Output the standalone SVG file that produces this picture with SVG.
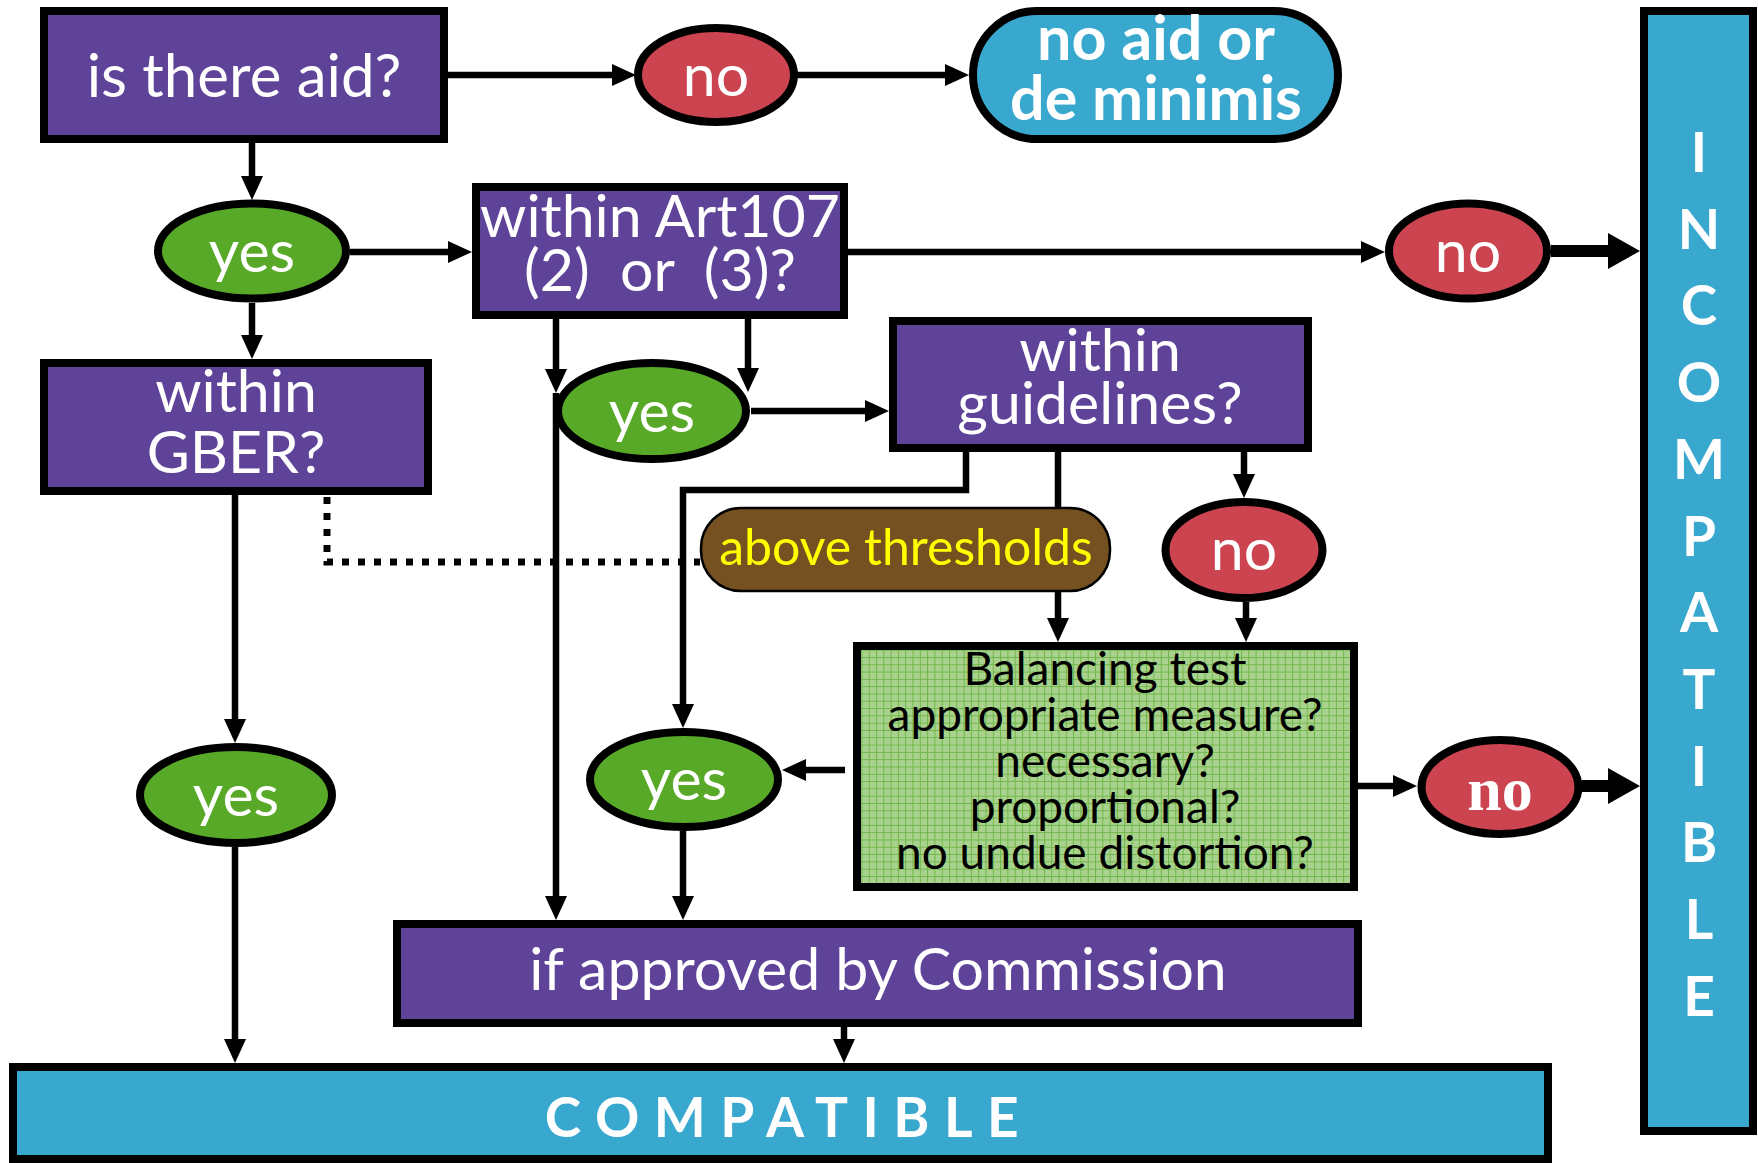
<svg xmlns="http://www.w3.org/2000/svg" width="1758" height="1163" viewBox="0 0 1758 1163">
<style>
.box{fill:#5E4399;stroke:#000;stroke-width:8}
.yes{fill:#58A928;stroke:#000;stroke-width:8}
.no{fill:#CB4450;stroke:#000;stroke-width:8}
.blue{fill:#38A8CF;stroke:#000;stroke-width:8}
.t{font-family:Lato,'Open Sans',sans-serif;fill:#fff;text-anchor:middle;font-size:59px}
.b{font-weight:bold}
.c{fill:none;stroke:#000;stroke-width:6.5}
.ck{fill:none;stroke:#000;stroke-width:12}
.a{marker-end:url(#ah)}
.ak{marker-end:url(#ahk)}
.dot{fill:none;stroke:#000;stroke-width:7;stroke-dasharray:7 9}
</style>
<defs>
<marker id="ah" markerUnits="userSpaceOnUse" markerWidth="24" markerHeight="22" viewBox="0 0 24 22" refX="0" refY="11" orient="auto"><path d="M0,0 L24,11 L0,22 Z" fill="#000"/></marker>
<marker id="ahk" markerUnits="userSpaceOnUse" markerWidth="32" markerHeight="36" viewBox="0 0 32 36" refX="0" refY="18" orient="auto"><path d="M0,0 L32,18 L0,36 Z" fill="#000"/></marker>
<pattern id="grid" width="7.3" height="7.3" patternUnits="userSpaceOnUse">
<rect width="7.3" height="7.3" fill="#AAD28F"/>
<path d="M0,0.5 H7.3 M0.5,0 V7.3" stroke="#6FB646" stroke-width="1"/>
</pattern>
</defs>

<g id="connectors">
<path class="c a" d="M448,75 H612"/>
<path class="c a" d="M794,75 H945"/>
<path class="c a" d="M252,143 V176"/>
<path class="c a" d="M350,252 H448"/>
<path class="c a" d="M848,252 H1361"/>
<path class="ck ak" d="M1551,251 H1608"/>
<path class="c a" d="M252,303 V335"/>
<path class="c a" d="M556,319 V369"/>
<path class="c a" d="M556,393 V896"/>
<path class="c a" d="M748,319 V368"/>
<path class="c a" d="M751,411 H865"/>
<path class="c a" d="M966,452 V490 H683 V704"/>
<path class="c a" d="M1058,452 V618"/>
<path class="c a" d="M1244,452 V474"/>
<path class="c a" d="M1246,602 V618"/>
<path class="c a" d="M845,770 H806"/>
<path class="c a" d="M1358,786 H1393"/>
<path class="ck ak" d="M1582,786 H1608"/>
<path class="c a" d="M683,831 V896"/>
<path class="c a" d="M235,495 V719"/>
<path class="c a" d="M235,847 V1039"/>
<path class="c a" d="M844,1027 V1039"/>
<path class="dot" d="M327,497 V562 H700"/>
</g>

<g id="n_aid"><rect class="box" x="44" y="11" width="400" height="128"/><text class="t" x="244" y="97" style="font-size:60px">is there aid?</text></g>
<g id="n_no1"><ellipse class="no" cx="716" cy="75" rx="78" ry="47"/><text class="t" x="716" y="96">no</text></g>
<g id="n_noaid"><rect class="blue" x="973" y="11" width="365" height="128" rx="64" ry="64"/><text class="t b" x="1156" y="60" style="font-size:61px">no aid or</text><text class="t b" x="1156" y="120" style="font-size:61px">de minimis</text></g>
<g id="n_incompat"><rect class="blue" x="1644" y="11" width="109" height="1120"/>
<g class="t b" style="font-size:55px"><text x="1699" y="172">I</text><text x="1699" y="249">N</text><text x="1699" y="325">C</text><text x="1699" y="402">O</text><text x="1699" y="479">M</text><text x="1699" y="556">P</text><text x="1699" y="632">A</text><text x="1699" y="709">T</text><text x="1699" y="786">I</text><text x="1699" y="862">B</text><text x="1699" y="939">L</text><text x="1699" y="1016">E</text></g></g>
<g id="n_yes1"><ellipse class="yes" cx="252" cy="251" rx="94" ry="47.5"/><text class="t" x="252" y="272">yes</text></g>
<g id="n_art"><rect class="box" x="476" y="187" width="368" height="128"/><text class="t" x="660" y="237">within Art107</text><text class="t" x="660" y="291" style="white-space:pre">(2)  or  (3)?</text></g>
<g id="n_no2"><ellipse class="no" cx="1468" cy="251" rx="79" ry="47.5"/><text class="t" x="1468" y="272">no</text></g>
<g id="n_gber"><rect class="box" x="44" y="363" width="384" height="128"/><text class="t" x="236" y="412">within</text><text class="t" x="236" y="473">GBER?</text></g>
<g id="n_yes2"><ellipse class="yes" cx="652" cy="411" rx="94" ry="48"/><text class="t" x="652" y="432">yes</text></g>
<g id="n_guide"><rect class="box" x="893" y="321" width="415" height="127"/><text class="t" x="1100" y="371">within</text><text class="t" x="1100" y="424">guidelines?</text></g>
<g id="n_thresh"><rect x="701" y="508" width="409" height="83" rx="40" ry="40" fill="#755021" stroke="#000" stroke-width="2.5"/><text class="t" x="906" y="565" style="font-size:50px;fill:#FFFF00">above thresholds</text></g>
<g id="n_no3"><ellipse class="no" cx="1244" cy="550" rx="78.5" ry="48"/><text class="t" x="1244" y="570">no</text></g>
<g id="n_yes4"><ellipse class="yes" cx="236" cy="795" rx="96" ry="48"/><text class="t" x="236" y="816">yes</text></g>
<g id="n_yes3"><ellipse class="yes" cx="684" cy="779.5" rx="94" ry="47.5"/><text class="t" x="684" y="800">yes</text></g>
<g id="n_balance"><rect x="857" y="646" width="497" height="241" fill="url(#grid)" stroke="#000" stroke-width="8"/>
<g class="t" style="fill:#000;font-size:46px"><text x="1105" y="685">Balancing test</text><text x="1105" y="731">appropriate measure?</text><text x="1105" y="777">necessary?</text><text x="1105" y="823">proportional?</text><text x="1105" y="869">no undue distortion?</text></g></g>
<g id="n_no4"><ellipse class="no" cx="1500" cy="787" rx="78.5" ry="47"/><text x="1500" y="810" font-family="'Liberation Serif',serif" font-weight="bold" font-size="62" fill="#fff" text-anchor="middle">no</text></g>
<g id="n_approved"><rect class="box" x="397" y="924" width="961" height="99"/><text class="t" x="878" y="990">if approved by Commission</text></g>
<g id="n_compat"><rect class="blue" x="13" y="1067" width="1535" height="92"/><text class="t b" x="789" y="1137" style="font-size:55px;letter-spacing:14.5px">COMPATIBLE</text></g>
</svg>
